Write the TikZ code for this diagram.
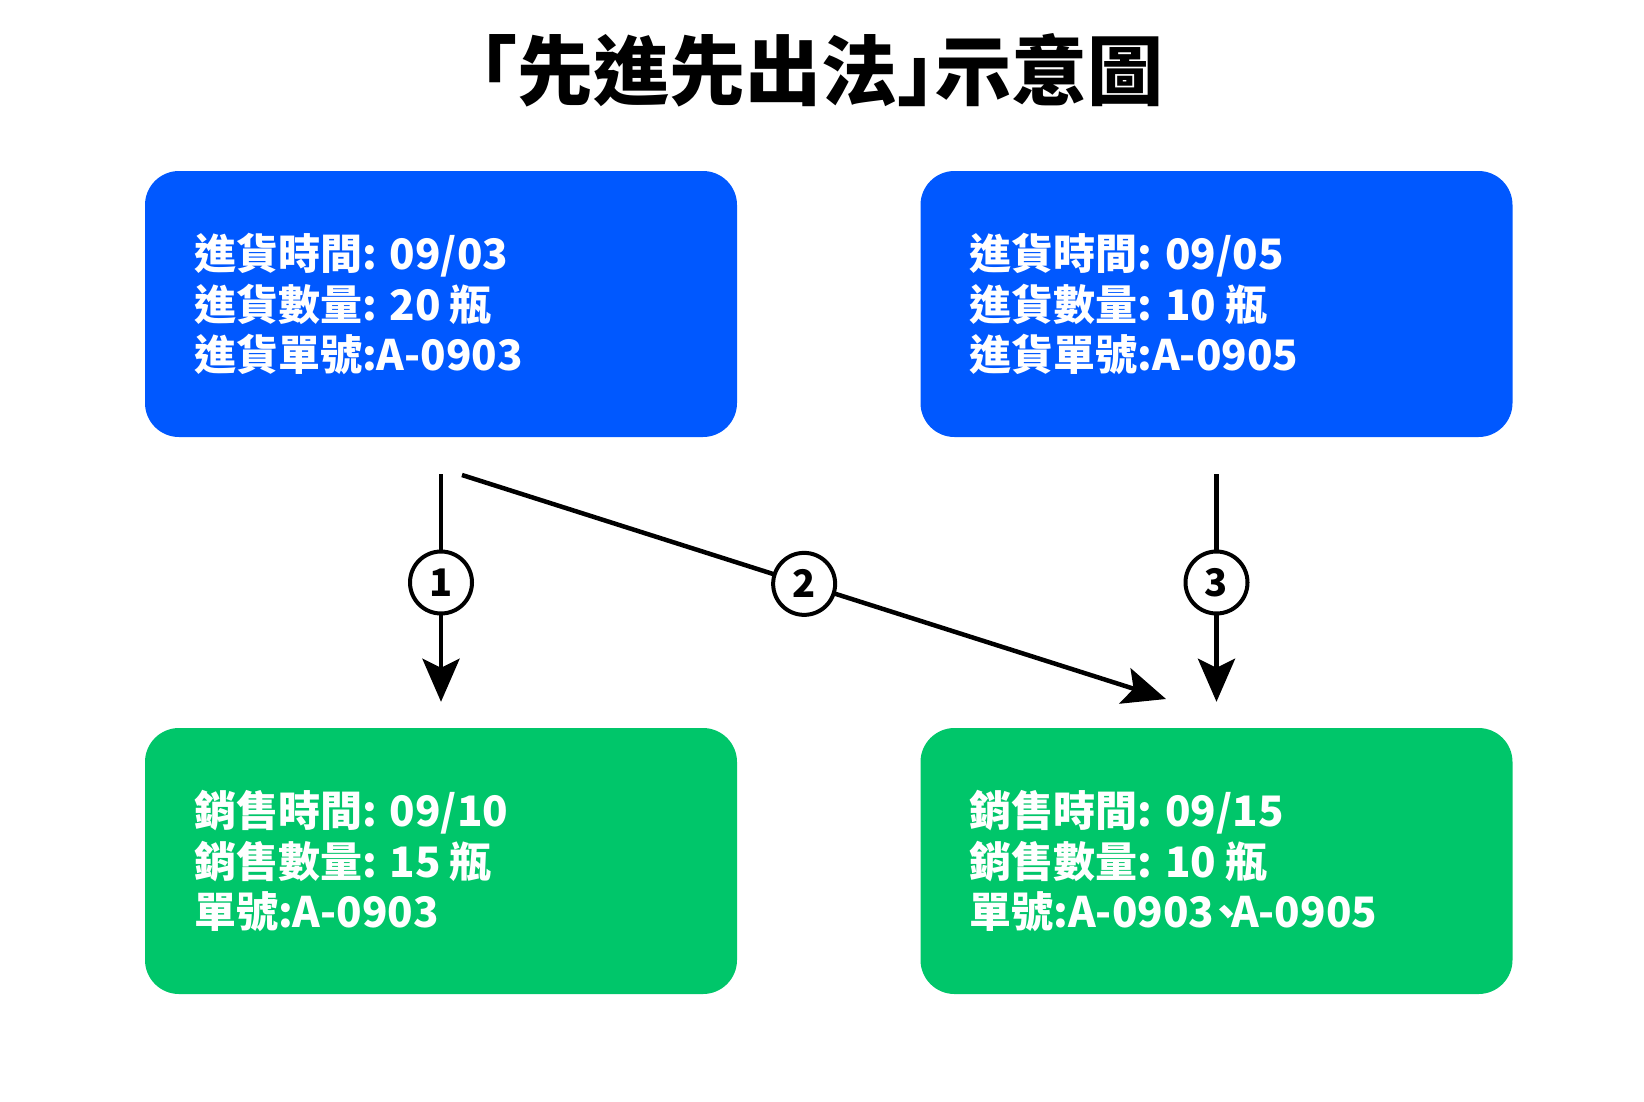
\documentclass[tikz,border=0pt]{standalone}
\usepackage{fontspec}
\setmainfont{Noto Sans CJK TC}
\usepackage{xcolor}
\usepackage{tikz}
\usetikzlibrary{arrows.meta, positioning}
\definecolor{stockblue}{RGB}{0,88,255}
\definecolor{salegreen}{RGB}{0,198,106}

% gaps after the colon and before the unit
\newcommand{\colgap}{\hspace{13pt}}
\newcommand{\gap}{\hspace{9pt}}
% narrow enumeration comma
\newcommand{\dunhao}{\kern-0.22em、\kern-0.38em}

\tikzset{
    infobox/.style={rectangle, rounded corners=34pt, minimum width=592pt, minimum height=266pt,
        text width=494pt, inner xsep=49pt, inner ysep=0pt, align=left, text=white,
        font=\fontsize{42}{50.8}\selectfont\bfseries},
    flow/.style={line width=4.5pt, -{Stealth[length=43pt, width=37pt, inset=9pt]}},
    stepnum/.style={circle, draw, line width=4pt, fill=white, minimum size=62pt, inner sep=0pt,
        font=\fontsize{38}{38}\selectfont\bfseries}
}

\begin{document}
\begin{tikzpicture}[x=1pt, y=-1pt]
    \useasboundingbox (0,0) rectangle (1644,1101);

    % Title
    \node (title) at (802,70) {\fontsize{76}{80}\selectfont\bfseries 「先進先出法」\kern-0.5em示意圖};

    % Stock in
    \node[infobox, fill=stockblue] (in1) at (441,304) {進貨時間:\colgap 09/03\\進貨數量:\colgap 20\gap 瓶\\進貨單號:A-0903};
    \node[infobox, fill=stockblue] (in2) at (1216.5,304) {進貨時間:\colgap 09/05\\進貨數量:\colgap 10\gap 瓶\\進貨單號:A-0905};

    % Sales
    \node[infobox, fill=salegreen] (out1) at (441,861) {銷售時間:\colgap 09/10\\銷售數量:\colgap 15\gap 瓶\\單號:A-0903};
    \node[infobox, fill=salegreen] (out2) at (1216.5,861) {銷售時間:\colgap 09/15\\銷售數量:\colgap 10\gap 瓶\\單號:A-0903\dunhao A-0905};

    % Flows
    \draw[flow, shorten <=37pt, shorten >=26pt] (in1) -- node[stepnum] {1} (out1);
    \coordinate (a2s) at (462,475);
    \coordinate (a2e) at (1166,699);
    \draw[flow] (a2s) -- node[stepnum, pos=0.486] {2} (a2e);
    \draw[flow, shorten <=37pt, shorten >=26pt] (in2) -- node[stepnum] {3} (out2);
\end{tikzpicture}
\end{document}
